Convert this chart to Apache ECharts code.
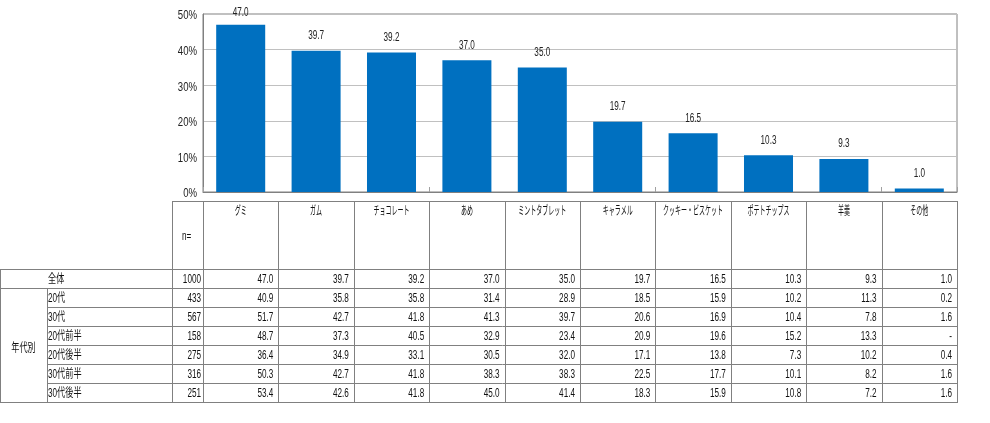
<!DOCTYPE html>
<html>
<head>
<meta charset="utf-8">
<script src="https://cdn.jsdelivr.net/npm/echarts@6/dist/echarts.min.js"></script>
<style>
html,body{margin:0;padding:0;background:#fff;}
#chart{width:990px;height:423px;}
</style>
</head>
<body>
<div id="chart"></div>
<script>
// ---- data ----
const categories = ['グミ', 'ガム', 'チョコレート', 'あめ', 'ミントタブレット', 'キャラメル', 'クッキー・ビスケット', 'ポテトチップス', '羊羹', 'その他'];
const totals = [47.0, 39.7, 39.2, 37.0, 35.0, 19.7, 16.5, 10.3, 9.3, 1.0];
const yTicks = [0, 10, 20, 30, 40, 50];
const rowLabels = ['全体', '20代', '30代', '20代前半', '20代後半', '30代前半', '30代後半'];
const rowN = [1000, 433, 567, 158, 275, 316, 251];
const rowAll = [47.0, 39.7, 39.2, 37.0, 35.0, 19.7, 16.5, 10.3, 9.3, 1.0];
const row20s = [40.9, 35.8, 35.8, 31.4, 28.9, 18.5, 15.9, 10.2, 11.3, 0.2];
const row30s = [51.7, 42.7, 41.8, 41.3, 39.7, 20.6, 16.9, 10.4, 7.8, 1.6];
const row20sEarly = [48.7, 37.3, 40.5, 32.9, 23.4, 20.9, 19.6, 15.2, 13.3, null];
const row20sLate = [36.4, 34.9, 33.1, 30.5, 32.0, 17.1, 13.8, 7.3, 10.2, 0.4];
const row30sEarly = [50.3, 42.7, 41.8, 38.3, 38.3, 22.5, 17.7, 10.1, 8.2, 1.6];
const row30sLate = [53.4, 42.6, 41.8, 45.0, 41.4, 18.3, 15.9, 10.8, 7.2, 1.6];
const rowValues = [rowAll, row20s, row30s, row20sEarly, row20sLate, row30sEarly, row30sLate];
const groupLabel = '年代別';
const nLabel = 'n=';

// ---- layout/style ----
const FONT = "'Liberation Sans', 'Noto Sans CJK JP', sans-serif";
const LINE = '#808080';
const TXT = '#111';
const SX = 0.68;       // horizontal squeeze of the condensed text face
const HSX = 0.5;       // header squeeze
const nColW = 31, labelColW = 125, groupColW = 47, headerH = 68;

const chart = echarts.init(document.getElementById('chart'), null, {renderer: 'canvas'});

function fmt(v) { return v == null ? '-' : v.toFixed(1); }
function p(v) { return Math.round(v) + 0.5; }
function sText(t, x, y, align, size, sx, fill) {
  return {type: 'text', silent: true, x: x, y: y, scaleX: sx, scaleY: 1,
    style: {text: t, x: 0, y: 0, align: align, verticalAlign: 'middle', fill: fill || TXT, font: size + 'px ' + FONT}};
}

function renderRow(params, api) {
  const r = api.value(1);
  const c0 = api.coord([0, r]);
  const sz = api.size([1, 1]);
  const cw = sz[0], rh = sz[1];
  const top = c0[1] - rh / 2;
  const bottom = top + rh;
  const gridLeft = c0[0] - cw / 2;
  const gridRight = gridLeft + cw * categories.length;
  const nLeft = gridLeft - nColW;
  const labelLeft = nLeft - labelColW;
  const groupLeft = labelLeft - groupColW;
  const children = [];
  const hline = (x1, x2, y) => children.push({type: 'line', silent: true,
    shape: {x1: Math.round(x1), y1: p(y), x2: Math.round(x2) + 1, y2: p(y)}, style: {stroke: LINE, lineWidth: 1}});
  const vline = (x, y1, y2) => children.push({type: 'line', silent: true,
    shape: {x1: p(x), y1: Math.round(y1), x2: p(x), y2: Math.round(y2) + 1}, style: {stroke: LINE, lineWidth: 1}});

  if (r === 0) {
    const hTop = top - headerH;
    hline(nLeft, gridRight, hTop);
    vline(nLeft, hTop, top);
    for (let c = 0; c <= categories.length; c++) vline(gridLeft + cw * c, hTop, top);
    children.push(sText(nLabel, nLeft + 10, hTop + 36, 'left', 12, SX));
    categories.forEach((name, c) => children.push(sText(name, gridLeft + cw * (c + 0.5), hTop + 11, 'center', 12, HSX)));
  }
  if (r <= 1) hline(groupLeft, gridRight, top); else hline(labelLeft, gridRight, top);
  if (r === rowLabels.length - 1) hline(groupLeft, gridRight, bottom);
  vline(groupLeft, top, bottom);
  if (r >= 1) vline(labelLeft, top, bottom);
  vline(nLeft, top, bottom);
  for (let c = 0; c <= categories.length; c++) vline(gridLeft + cw * c, top, bottom);

  const cy = top + rh / 2 + 1;
  children.push(sText(rowLabels[r], labelLeft + 1, cy, 'left', 12, SX));
  children.push(sText(String(rowN[r]), gridLeft - 2, cy, 'right', 12, SX));
  rowValues[r].forEach((v, c) => children.push(sText(fmt(v), gridLeft + cw * (c + 1) - 5, cy, 'right', 12, SX)));
  if (r === 1) {
    const n = rowLabels.length - 1;
    children.push(sText(groupLabel, groupLeft + groupColW / 2, top + rh * n / 2 + 4, 'center', 12, SX));
  }
  return {type: 'group', children: children};
}

function renderBarLabel(params, api) {
  const i = api.value(0);
  const v = api.value(1);
  const pt = api.coord([i, v]);
  const plotTop = api.coord([i, yTicks[yTicks.length - 1]])[1];
  const y = Math.max(pt[1] - 15, plotTop - 1);
  return sText(v.toFixed(1), pt[0], y, 'center', 12, SX, '#222');
}

function renderYLabel(params, api) {
  const v = api.value(1);
  const pt = api.coord([0, v]);
  const sz = api.size([1, 0]);
  const x = pt[0] - sz[0] / 2 - 6;
  return sText(v + '%', x, pt[1] + 2, 'right', 12, 0.8, '#222');
}

const option = {
  animation: false,
  backgroundColor: '#fff',
  grid: [
    {left: 203, right: 33, top: 14, height: 178, show: true, borderColor: LINE, borderWidth: 1, backgroundColor: 'transparent'},
    {left: 203, right: 33, top: 269, height: 133}
  ],
  xAxis: [
    {type: 'category', gridIndex: 0, data: categories,
     axisLine: {lineStyle: {color: LINE}},
     axisTick: {show: true, inside: true, length: 5, lineStyle: {color: '#a0a0a0'}},
     axisLabel: {show: false}},
    {type: 'category', gridIndex: 1, data: categories, show: false}
  ],
  yAxis: [
    {type: 'value', gridIndex: 0, min: yTicks[0], max: yTicks[yTicks.length - 1], interval: 10,
     axisLine: {show: true, lineStyle: {color: LINE}},
     axisTick: {show: false},
     splitLine: {lineStyle: {color: '#c0c0c0'}},
     axisLabel: {show: false}},
    {type: 'category', gridIndex: 1, data: rowLabels, inverse: true, show: false}
  ],
  series: [
    {type: 'bar', xAxisIndex: 0, yAxisIndex: 0, data: totals, barWidth: '65%',
     itemStyle: {color: '#0070C0'}},
    {type: 'custom', xAxisIndex: 0, yAxisIndex: 0, silent: true, z: 5,
     data: totals.map((v, i) => [i, v]), encode: {x: 0, y: 1}, renderItem: renderBarLabel},
    {type: 'custom', xAxisIndex: 0, yAxisIndex: 0, silent: true, z: 5,
     data: yTicks.map((v) => [0, v]), encode: {x: 0, y: 1}, renderItem: renderYLabel},
    {type: 'custom', xAxisIndex: 1, yAxisIndex: 1, silent: true,
     data: rowLabels.map((_, r) => [0, r]), encode: {x: 0, y: 1},
     renderItem: renderRow}
  ]
};
chart.setOption(option);
</script>
</body>
</html>
